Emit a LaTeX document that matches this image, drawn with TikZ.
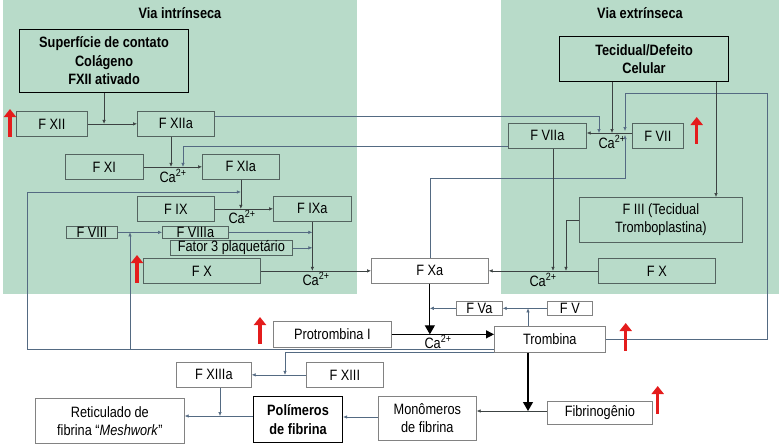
\documentclass[tikz,border=0pt]{standalone}
\usepackage{fontspec}
\setmainfont{Liberation Sans}[FakeStretch=0.85]
\usetikzlibrary{arrows.meta,calc}
\definecolor{grn}{RGB}{184,219,201}
\definecolor{bdr}{RGB}{84,100,96}
\definecolor{wbdr}{RGB}{130,130,130}
\definecolor{ln}{RGB}{60,66,66}
\definecolor{bl}{RGB}{84,106,130}
\definecolor{redA}{RGB}{228,28,28}
\begin{document}
\begin{tikzpicture}[x=1pt,y=-1pt,
  font=\fontsize{15}{18}\selectfont,
  gb/.style={draw=bdr, fill=grn, line width=0.7pt, inner sep=0pt, anchor=north west, align=center},
  wb/.style={draw=wbdr, fill=white, line width=0.7pt, inner sep=0pt, anchor=north west, align=center},
  kb/.style={draw=black, line width=1.1pt, inner sep=0pt, anchor=north west, align=center, font=\fontsize{15}{18.5}\selectfont\bfseries},
  con/.style={draw=ln, line width=0.6pt, -{Latex[length=4pt,width=3.5pt]}},
  conb/.style={draw=bl, line width=0.6pt, -{Latex[length=4pt,width=3.5pt]}},
  big/.style={draw=black, line width=1.2pt, -{Triangle[length=9pt,width=10pt]}},
  redup/.style={draw=redA, line width=3.5pt, -{Triangle[length=8pt,width=12pt]}},
  ca/.style={inner sep=0pt},
  ttl/.style={font=\fontsize{15}{17}\selectfont\bfseries}
]
\useasboundingbox (0,0) rectangle (779,444);
% green regions
\fill[grn] (3,0) rectangle (357,294);
\fill[grn] (501,0) rectangle (779,294);
\node[ttl] (t1) at (180,13) {Via intrínseca};
\node[ttl] (t2) at (640,13) {Via extrínseca};

% nodes
\node[kb, fill=grn, minimum width=169pt, minimum height=63pt] (sup) at (19,29) {Superfície de contato\\Colágeno\\FXII ativado};
\node[kb, fill=grn, minimum width=169pt, minimum height=45pt] (tec) at (559,36) {Tecidual/Defeito\\Celular};
\node[gb, minimum width=71pt, minimum height=25pt] (fxii) at (16,111) {F XII};
\node[gb, minimum width=77pt, minimum height=25pt] (fxiia) at (137,111) {F XIIa};
\node[gb, minimum width=78pt, minimum height=25pt] (fxi) at (65,154) {F XI};
\node[gb, minimum width=77pt, minimum height=25pt] (fxia) at (202,154) {F XIa};
\node[gb, minimum width=77pt, minimum height=25pt] (fix) at (137,196) {F IX};
\node[gb, minimum width=78pt, minimum height=25pt] (fixa) at (273,196) {F IXa};
\node[gb, minimum width=51pt, minimum height=12pt] (fviii) at (66,226) {F VIII};
\node[gb, minimum width=66pt, minimum height=12pt] (fviiia) at (162,226) {F VIIIa};
\node[gb, minimum width=122pt, minimum height=15pt] (fat3) at (170,240) {Fator 3 plaquetário};
\node[gb, minimum width=117pt, minimum height=25pt] (fxl) at (143,258) {F X};
\node[gb, minimum width=78pt, minimum height=25pt] (fviia) at (508,123) {F VIIa};
\node[gb, minimum width=51pt, minimum height=25pt] (fvii) at (632,123) {F VII};
\node[gb, minimum width=163pt, minimum height=45pt] (fiii) at (579,197) {F III (Tecidual\\Tromboplastina)};
\node[gb, minimum width=117pt, minimum height=25pt] (fxr) at (598,258) {F X};
\node[wb, minimum width=117pt, minimum height=25pt] (fxa) at (371,258) {F Xa};
\node[wb, minimum width=46pt, minimum height=14pt] (fva) at (456,301) {F Va};
\node[wb, minimum width=45pt, minimum height=14pt] (fv) at (547,301) {F V};
\node[wb, minimum width=118pt, minimum height=26pt] (prot) at (273,321) {Protrombina I};
\node[wb, minimum width=111pt, minimum height=26pt] (trom) at (494,326) {Trombina};
\node[wb, minimum width=75pt, minimum height=25pt] (fxiiia) at (176,362) {F XIIIa};
\node[wb, minimum width=77pt, minimum height=25pt] (fxiii) at (306,362) {F XIII};
\node[wb, minimum width=149pt, minimum height=45pt] (ret) at (35,398) {Reticulado de\\fibrina “\textit{Meshwork}”};
\node[kb, fill=white, minimum width=89pt, minimum height=46pt] (pol) at (253,396) {Polímeros\\de fibrina};
\node[wb, minimum width=98pt, minimum height=44pt] (mon) at (378,396) {Monômeros\\de fibrina};
\node[wb, minimum width=105pt, minimum height=23pt] (fib) at (547,401) {Fibrinogênio};

% Ca labels
\node[ca] (ca1) at (173,176) {Ca\textsuperscript{2+}};
\node[ca] (ca2) at (242,217) {Ca\textsuperscript{2+}};
\node[ca] (ca3) at (316,279) {Ca\textsuperscript{2+}};
\node[ca] (ca4) at (612,142) {Ca\textsuperscript{2+}};
\node[ca] (ca5) at (543,280) {Ca\textsuperscript{2+}};
\node[ca] (ca6) at (438,342) {Ca\textsuperscript{2+}};

% junction coordinates
\coordinate (jA) at (599,133);
\coordinate (jB) at (625,131);
\coordinate (jC) at (625,135);
\coordinate (jD) at (612,133);

% intrinsic connectors
\draw[con] (fxii) -- (fxiia);
\draw[con] (sup.south) -- (sup.south |- fxii.east);
\draw[con] (171,0 |- fxiia.south) -- (171,0 |- fxi.east);
\draw[con] (fxi) -- (fxia);
\draw[conb] (fviia.west |- 0,146) -| (183,0 |- fxi.east);
\draw[con] (fxia.south) -- (fxia.south |- fix.east);
\draw[con] (fix) -- (fixa);
\draw[conb] (trom.west |- 0,349) -| (27,0 |- 0,192) -- (fxia.south |- 0,192);
\draw[conb] (130,0 |- trom.west |- 0,349) -- (130,0 |- fviii.east);
\draw[conb] (fviii) -- (fviiia);
\draw[conb] (fviiia.east) -- (fixa.south |- fviiia.east);
\draw[conb] (fat3.east) -- (fixa.south |- fat3.east);
\draw[con] (fixa.south) -- (fixa.south |- fxl.east);
\draw[con] (fxl) -- (fxa);

% extrinsic connectors
\draw[conb] (fxiia.east |- 0,116) -| (jA);
\draw[con] (tec.south -| jD) -- (jD);
\draw[con] (fvii.west |- jD) -- (fviia.east |- jD);
\draw[conb] (trom.east) -| (767,93) -| (jB);
\draw[conb] (fxa.north) |- (625,178) -- (jC);
\draw[con] (716,0 |- tec.south) -- (716,0 |- fiii.north);
\draw[con] (fiii.west |- 0,220) -| (566,0 |- fxr.west);
\draw[con] (553,0 |- fviia.south) -- (553,0 |- fxr.west);
\draw[con] (fxr) -- (fxa);

% common pathway
\draw[big] (fxa.south) -- (fxa.south |- prot.east);
\draw[draw=black, line width=1.2pt, -{Triangle[length=8pt,width=8pt]}] (prot.east) -- (trom.west |- prot.east);
\draw[conb] (fv) -- (fva);
\draw[conb] (528,0 |- trom.north) -- (528,0 |- fv.west);
\draw[conb] (fva.west) -- (fxa.south |- fva.west);
\draw[conb] (trom.south west) -| (285,0 |- fxiii.west);
\draw[conb] (fxiii) -- (fxiiia);
\draw[conb] (220,0 |- fxiiia.south) -- (220,416);
\draw[conb] (pol.west |- 0,416) -- (ret.east |- 0,416);
\draw[conb] (mon.west |- 0,417) -- (pol.east |- 0,417);
\draw[con] (fib.west |- 0,411) -- (mon.east |- 0,411);
\draw[big] (528,0 |- trom.south) -- (528,0 |- fib.west |- 0,411);

% red arrows
\draw[redup] ([xshift=-6pt]fxii.south west) -- ([xshift=-6pt,yshift=2pt]fxii.north west);
\draw[redup] ([xshift=-6pt,yshift=1pt]fxl.south west) -- ([xshift=-6pt,yshift=3pt]fxl.north west);
\draw[redup] ([xshift=13pt,yshift=5pt]fvii.south east) -- ([xshift=13pt,yshift=6pt]fvii.north east);
\draw[redup] ([xshift=-13pt,yshift=4pt]prot.south west) -- ([xshift=-13pt,yshift=4pt]prot.north west);
\draw[redup] ([xshift=20pt,yshift=2pt]trom.south east) -- ([xshift=20pt,yshift=3pt]trom.north east);
\draw[redup] ([xshift=5pt,yshift=11pt]fib.south east) -- ([xshift=5pt,yshift=15pt]fib.north east);
\end{tikzpicture}
\end{document}
